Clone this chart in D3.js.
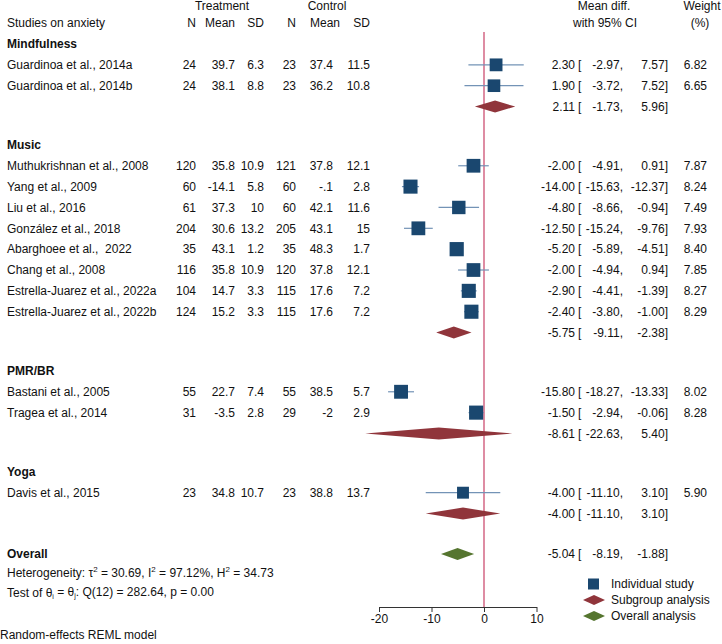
<!DOCTYPE html>
<html>
<head>
<meta charset="utf-8">
<script src="https://cdn.jsdelivr.net/npm/d3@7"></script>
<style>
  html, body { margin: 0; padding: 0; background: #fff; }
  svg { display: block; font-family: "Liberation Sans", Arial, sans-serif; }
  text { white-space: pre; }
</style>
</head>
<body>
<svg id="chart" width="722" height="644"></svg>
<script>
// ---------------- DATA ----------------
const groupNames = ["Mindfulness", "Music", "PMR/BR", "Yoga"];
const studyNames = [
  "Guardinoa et al., 2014a", "Guardinoa et al., 2014b",
  "Muthukrishnan et al., 2008", "Yang et al., 2009", "Liu et al., 2016",
  "González et al., 2018", "Abarghoee et al.,\u00A0 2022", "Chang et al., 2008",
  "Estrella-Juarez et al., 2022a", "Estrella-Juarez et al., 2022b",
  "Bastani et al., 2005", "Tragea et al., 2014",
  "Davis et al., 2015"
];
const studyGroup = [0, 0, 1, 1, 1, 1, 1, 1, 1, 1, 2, 2, 3];
const treatN    = [24, 24, 120, 60, 61, 204, 35, 116, 104, 124, 55, 31, 23];
const treatMean = [39.7, 38.1, 35.8, -14.1, 37.3, 30.6, 43.1, 35.8, 14.7, 15.2, 22.7, -3.5, 34.8];
const treatSD   = [6.3, 8.8, 10.9, 5.8, 10, 13.2, 1.2, 10.9, 3.3, 3.3, 7.4, 2.8, 10.7];
const ctrlN     = [23, 23, 121, 60, 60, 205, 35, 120, 115, 115, 55, 29, 23];
const ctrlMean  = [37.4, 36.2, 37.8, -0.1, 42.1, 43.1, 48.3, 37.8, 17.6, 17.6, 38.5, -2, 38.8];
const ctrlSD    = [11.5, 10.8, 12.1, 2.8, 11.6, 15, 1.7, 12.1, 7.2, 7.2, 5.7, 2.9, 13.7];
const studyES   = [2.30, 1.90, -2.00, -14.00, -4.80, -12.50, -5.20, -2.00, -2.90, -2.40, -15.80, -1.50, -4.00];
const studyLo   = [-2.97, -3.72, -4.91, -15.63, -8.66, -15.24, -5.89, -4.94, -4.41, -3.80, -18.27, -2.94, -11.10];
const studyHi   = [7.57, 7.52, 0.91, -12.37, -0.94, -9.76, -4.51, 0.94, -1.39, -1.00, -13.33, -0.06, 3.10];
const studyWt   = [6.82, 6.65, 7.87, 8.24, 7.49, 7.93, 8.40, 7.85, 8.27, 8.29, 8.02, 8.28, 5.90];
const groupES   = [2.11, -5.75, -8.61, -4.00];
const groupLo   = [-1.73, -9.11, -22.63, -11.10];
const groupHi   = [5.96, -2.38, 5.40, 3.10];
const overallES = -5.04, overallLo = -8.19, overallHi = -1.88;
const xTicks = [-20, -10, 0, 10];
const legendLabels = ["Individual study", "Subgroup analysis", "Overall analysis"];

// ---------------- STYLE ----------------
const C = { navy: "#1a476f", ci: "#7393b6", maroon: "#90353b", green: "#55752f", ref: "#d6708c", text: "#111" };
const FS = 12;

const svg = d3.select("#chart");

// ---------------- ROW LAYOUT ----------------
const rows = [];
let slot = 0;
const blankGap = 0.84;
groupNames.forEach((g, gi) => {
  rows.push({ type: "group", label: g, slot: slot }); slot += 1;
  studyNames.forEach((s, i) => {
    if (studyGroup[i] === gi) { rows.push({ type: "study", i: i, slot: slot }); slot += 1; }
  });
  rows.push({ type: "sub", gi: gi, slot: slot }); slot += 1 + blankGap;
});
slot += 0.1;
rows.push({ type: "overall", slot: slot });
const hetSlot = slot + 0.88, testSlot = slot + 1.84;

const y = d3.scaleLinear().domain([0, 1]).range([44, 64.85]);
const x = d3.scaleLinear().domain([-20, 10]).range([379, 536.5]);
const sq = d3.scaleSqrt().domain([0, 1]).range([0, 4.9]);

// column right edges
const colX = { nt: 196, mt: 235, st: 264, nc: 296, mc: 333, sc: 370, es: 575, lo: 623, hi: 668, wt: 707 };
const fmtNum = v => String(v).replace(/^(-?)0\./, "$1.");
const f2 = v => v.toFixed(2);

function txt(xp, yp, s, anchor, weight) {
  return svg.append("text").attr("x", xp).attr("y", yp).attr("dy", "0.35em")
    .attr("text-anchor", anchor || "start").attr("font-size", FS)
    .attr("font-weight", weight || "normal").attr("fill", C.text).text(s);
}

// ---------------- HEADER ----------------
txt(222, 6, "Treatment", "middle");
txt(327, 6, "Control", "middle");
txt(7, 23, "Studies on anxiety");
txt(colX.nt, 23, "N", "end");
txt(colX.mt, 23, "Mean", "end");
txt(colX.st, 23, "SD", "end");
txt(colX.nc, 23, "N", "end");
txt(340, 23, "Mean", "end");
txt(colX.sc, 23, "SD", "end");
txt(604, 6, "Mean diff.", "middle");
txt(605, 23, "with 95% CI", "middle");
txt(702, 6, "Weight", "middle");
txt(700, 23, "(%)", "middle");

// reference line
const axisY = 607;
svg.append("line").attr("x1", x(0)).attr("x2", x(0)).attr("y1", 32).attr("y2", axisY)
  .attr("stroke", C.ref).attr("stroke-width", 1.6);

function ciText(yp, es, lo, hi) {
  txt(colX.es, yp, f2(es), "end");
  txt(578, yp, "[");
  txt(colX.lo, yp, f2(lo) + ",", "end");
  txt(colX.hi, yp, f2(hi) + "]", "end");
}
function diamond(yp, es, lo, hi, color) {
  const h = 6;
  svg.append("path")
    .attr("d", `M${x(lo)},${yp} L${x(es)},${yp - h} L${x(hi)},${yp} L${x(es)},${yp + h} Z`)
    .attr("fill", color);
}

// ---------------- ROWS ----------------
rows.forEach(r => {
  const yp = y(r.slot);
  if (r.type === "group") {
    txt(7, yp, r.label, "start", "bold");
  } else if (r.type === "study") {
    const i = r.i;
    txt(7, yp, studyNames[i]);
    txt(colX.nt, yp, fmtNum(treatN[i]), "end");
    txt(colX.mt, yp, fmtNum(treatMean[i]), "end");
    txt(colX.st, yp, fmtNum(treatSD[i]), "end");
    txt(colX.nc, yp, fmtNum(ctrlN[i]), "end");
    txt(colX.mc, yp, fmtNum(ctrlMean[i]), "end");
    txt(colX.sc, yp, fmtNum(ctrlSD[i]), "end");
    ciText(yp, studyES[i], studyLo[i], studyHi[i]);
    txt(colX.wt, yp, f2(studyWt[i]), "end");
    svg.append("line").attr("x1", x(studyLo[i])).attr("x2", x(studyHi[i]))
      .attr("y1", yp).attr("y2", yp).attr("stroke", C.ci).attr("stroke-width", 1.2);
    const s = sq(studyWt[i]);
    svg.append("rect").attr("x", x(studyES[i]) - s / 2).attr("y", yp - s / 2)
      .attr("width", s).attr("height", s).attr("fill", C.navy);
  } else if (r.type === "sub") {
    const gi = r.gi;
    diamond(yp, groupES[gi], groupLo[gi], groupHi[gi], C.maroon);
    ciText(yp, groupES[gi], groupLo[gi], groupHi[gi]);
  } else if (r.type === "overall") {
    txt(7, yp, "Overall", "start", "bold");
    diamond(yp, overallES, overallLo, overallHi, C.green);
    ciText(yp, overallES, overallLo, overallHi);
  }
});

// heterogeneity text
const het = svg.append("text").attr("x", 7).attr("y", y(hetSlot)).attr("dy", "0.35em")
  .attr("font-size", FS).attr("fill", C.text);
het.append("tspan").text("Heterogeneity: τ");
het.append("tspan").attr("font-size", 8).attr("dy", "-0.55em").text("2");
het.append("tspan").attr("dy", "0.37em").text(" = 30.69, I");
het.append("tspan").attr("font-size", 8).attr("dy", "-0.55em").text("2");
het.append("tspan").attr("dy", "0.37em").text(" = 97.12%, H");
het.append("tspan").attr("font-size", 8).attr("dy", "-0.55em").text("2");
het.append("tspan").attr("dy", "0.37em").text(" = 34.73");

const tst = svg.append("text").attr("x", 7).attr("y", y(testSlot)).attr("dy", "0.35em")
  .attr("font-size", FS).attr("fill", C.text);
tst.append("tspan").text("Test of θ");
tst.append("tspan").attr("font-size", 7).attr("dy", "0.3em").text("i");
tst.append("tspan").attr("dy", "-0.2em").text(" = θ");
tst.append("tspan").attr("font-size", 7).attr("dy", "0.3em").text("j");
tst.append("tspan").attr("dy", "-0.2em").text(": Q(12) = 282.64, p = 0.00");

txt(0, 635, "Random-effects REML model");

// ---------------- AXIS ----------------
const axis = svg.append("g").attr("transform", `translate(0,${axisY})`)
  .call(d3.axisBottom(x).tickValues(xTicks).tickSize(5).tickSizeOuter(0).tickPadding(2).tickFormat(d => String(d)));
axis.selectAll("text").attr("font-size", FS).attr("fill", C.text)
  .attr("font-family", "'Liberation Sans', Arial, sans-serif");
axis.selectAll("line, path").attr("stroke", "#333");

// ---------------- LEGEND ----------------
const lg = svg.append("g");
const lgY = [584, 600, 616];
lg.append("rect").attr("x", 588).attr("y", lgY[0] - 5.5).attr("width", 11).attr("height", 11).attr("fill", C.navy);
[[C.maroon, lgY[1]], [C.green, lgY[2]]].forEach(([c, yy]) => {
  lg.append("path").attr("d", `M583,${yy} L594,${yy - 5} L605,${yy} L594,${yy + 5} Z`).attr("fill", c);
});
legendLabels.forEach((l, i) => txt(611, lgY[i], l));
</script>
</body>
</html>
